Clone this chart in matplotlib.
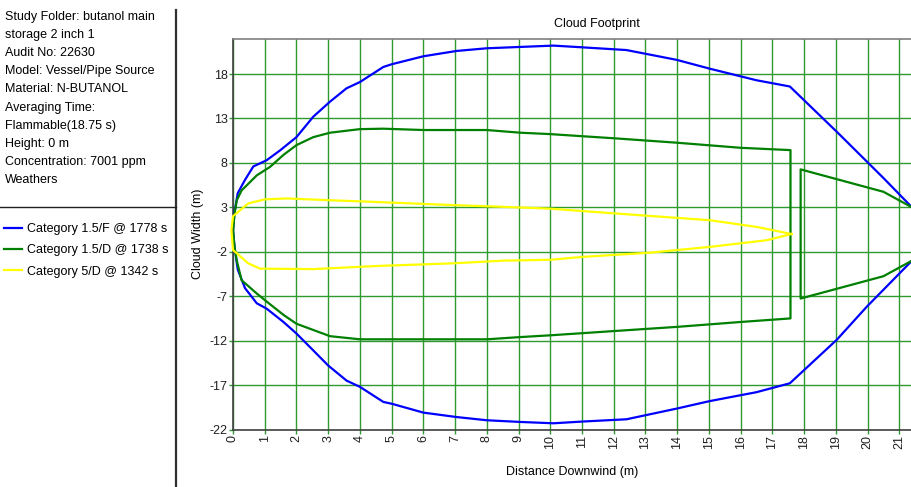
import numpy as np
import matplotlib
matplotlib.use("Agg")
import matplotlib.pyplot as plt
from matplotlib.lines import Line2D

# Skyens fodaftryk - tre vejrkategorier
info_linjer = [
    "Study Folder: butanol main",
    "storage 2 inch 1",
    "Audit No: 22630",
    "Model: Vessel/Pipe Source",
    "Material: N-BUTANOL",
    "Averaging Time:",
    "Flammable(18.75 s)",
    "Height: 0 m",
    "Concentration: 7001 ppm",
    "Weathers",
]
serie_navne = ["Category 1.5/F @ 1778 s", "Category 1.5/D @ 1738 s", "Category 5/D @ 1342 s"]
serie_farver = ["#0000ff", "#008000", "#ffff00"]

# Category 1.5/F (blå)
blaa_x_over = [0, 0.05, 0.15, 0.38, 0.64, 1.06, 1.48, 2.0, 2.53, 3.06, 3.58, 4.0, 4.74, 5.0, 6.0,
               7.05, 8.0, 9.05, 10.1, 11.04, 12.4, 13.98, 15.03, 16.5, 17.55, 19.03, 20.5, 21.4]
blaa_y_over = [0.4, 2.5, 4.6, 6.1, 7.6, 8.3, 9.4, 10.9, 13.2, 14.9, 16.4, 17.1, 18.8, 19.1, 20.0,
               20.6, 20.9, 21.05, 21.2, 21.0, 20.7, 19.6, 18.6, 17.3, 16.6, 11.5, 6.3, 3.0]
blaa_x_under = [0, 0.05, 0.15, 0.38, 0.75, 1.06, 1.59, 2.0, 2.53, 3.0, 3.58, 4.0, 4.74, 5.0, 6.0,
                7.05, 8.0, 9.05, 10.1, 11.04, 12.4, 13.98, 15.03, 16.5, 17.55, 19.03, 19.97, 21.4]
blaa_y_under = [0.4, -1.5, -4.0, -6.1, -7.8, -8.4, -9.9, -11.2, -13.1, -14.8, -16.5, -17.2, -18.9,
                -19.1, -20.1, -20.6, -20.96, -21.15, -21.3, -21.1, -20.85, -19.65, -18.8, -17.8,
                -16.8, -11.9, -8.2, -3.0]

# Category 1.5/D (grøn)
groen_x_over = [0, 0.05, 0.12, 0.27, 0.75, 1.17, 1.59, 2.0, 2.53, 3.06, 4.0, 4.74, 6.0, 8.0, 9.05,
                10.0, 12.1, 14.0, 16.0, 17.57]
groen_y_over = [0.4, 2.3, 3.8, 4.9, 6.6, 7.56, 8.9, 10.0, 10.9, 11.4, 11.8, 11.85, 11.7, 11.7, 11.4,
                11.24, 10.75, 10.27, 9.7, 9.44]
groen_x_under = [0, 0.05, 0.12, 0.27, 0.75, 1.06, 1.59, 2.0, 2.53, 3.06, 4.0, 8.0, 9.05, 10.0, 12.1,
                 14.0, 16.0, 17.57]
groen_y_under = [0.4, -1.5, -3.0, -5.2, -6.7, -7.6, -9.1, -10.1, -10.8, -11.5, -11.85, -11.85, -11.6,
                 -11.4, -10.9, -10.45, -9.9, -9.5]
groen_hale_x = [21.4, 20.5, 17.89, 17.89, 20.5, 21.4]
groen_hale_y = [3.0, 4.75, 7.27, -7.26, -4.75, -3.0]

# Category 5/D (gul)
gul_x_over = [0, 0.48, 1.0, 1.69, 3.06, 4.53, 6.94, 8.5, 10.0, 12.1, 15.03, 16.5, 17.6]
gul_y_over = [2.0, 3.44, 3.9, 4.0, 3.8, 3.6, 3.25, 3.06, 2.85, 2.3, 1.55, 0.8, 0.0]
gul_x_under = [0, 0.48, 0.85, 2.53, 4.53, 6.94, 8.52, 10.0, 11.04, 13.14, 15.03, 16.82, 17.6]
gul_y_under = [-1.8, -3.3, -3.9, -3.95, -3.6, -3.3, -3.0, -2.9, -2.57, -2.1, -1.45, -0.7, 0.0]
gul_naese_x = [-0.05]
gul_naese_y = [0.43]

x_ticks = list(range(0, 22))
y_ticks = [-22, -17, -12, -7, -2, 3, 8, 13, 18]

plt.rcParams["font.family"] = ["Liberation Sans", "DejaVu Sans"]
plt.rcParams["font.size"] = 9
plt.rcParams["axes.unicode_minus"] = False

fig = plt.figure(figsize=(9.12, 4.87), dpi=100)
ax = fig.add_axes([233 / 912, 1 - 429.5 / 487, 1 - 233 / 912, (429.5 - 38.5) / 487])

# grid
for xv in x_ticks:
    ax.axvline(xv, color="#2f9a2f", lw=1, zorder=1)
for yv in y_ticks:
    ax.axhline(yv, color="#2f9a2f", lw=1, zorder=1)

# blå
ax.plot(blaa_x_over, blaa_y_over, color=serie_farver[0], lw=1.6, zorder=3)
ax.plot(blaa_x_under, blaa_y_under, color=serie_farver[0], lw=1.6, zorder=3)

# grøn: lukket sløjfe + halestykke
gx = list(groen_x_over) + list(groen_x_under[::-1])
gy = list(groen_y_over) + list(groen_y_under[::-1])
ax.plot(gx, gy, color=serie_farver[1], lw=1.6, zorder=3)
ax.plot(groen_hale_x, groen_hale_y, color=serie_farver[1], lw=1.6, zorder=3)

# gul: lukket sløjfe
ux = list(gul_x_over[::-1]) + gul_naese_x + list(gul_x_under)
uy = list(gul_y_over[::-1]) + gul_naese_y + list(gul_y_under)
ax.plot(ux, uy, color=serie_farver[2], lw=1.6, zorder=3, clip_on=False)

ax.set_xlim(0, 21.4)
ax.set_ylim(-22, 22)
ax.set_xticks(x_ticks)
ax.set_yticks(y_ticks)
ax.set_xticklabels([str(v) for v in x_ticks], rotation=90)
ax.tick_params(axis="both", length=3, width=1, color="#2f9a2f", pad=1, labelsize=9, labelcolor="#202020")
for s in ["left", "bottom"]:
    ax.spines[s].set_color("#404040")
    ax.spines[s].set_linewidth(1.2)
ax.spines["top"].set_color("#808080")
ax.spines["top"].set_linewidth(1.2)
ax.spines["right"].set_visible(False)
ax.set_xlabel("Distance Downwind (m)", fontsize=9, labelpad=12)
ax.set_ylabel("Cloud Width (m)", fontsize=9, labelpad=4)
fig.text(597 / 912, 1 - 24 / 487, "Cloud Footprint", ha="center", va="center", fontsize=9)

# venstre panel
for i, linje in enumerate(info_linjer):
    fig.text(5 / 912, 1 - (17 + 18.1 * i) / 487, linje, ha="left", va="center", fontsize=9)
fig.add_artist(Line2D([176 / 912, 176 / 912], [0, 1 - 10 / 487], color="#303030", lw=1.6))
fig.add_artist(Line2D([0, 176 / 912], [1 - 207 / 487, 1 - 207 / 487], color="#202020", lw=1))

handles = [Line2D([], [], color=c, lw=1.6) for c in serie_farver]
leg = fig.legend(handles, serie_navne, loc="upper left", bbox_to_anchor=(4 / 912, 1 - 223 / 487),
                 frameon=False, fontsize=9, handlelength=1.45, handletextpad=0.4, labelspacing=0.75,
                 borderaxespad=0, borderpad=0)

fig.savefig("out.png", dpi=100)
